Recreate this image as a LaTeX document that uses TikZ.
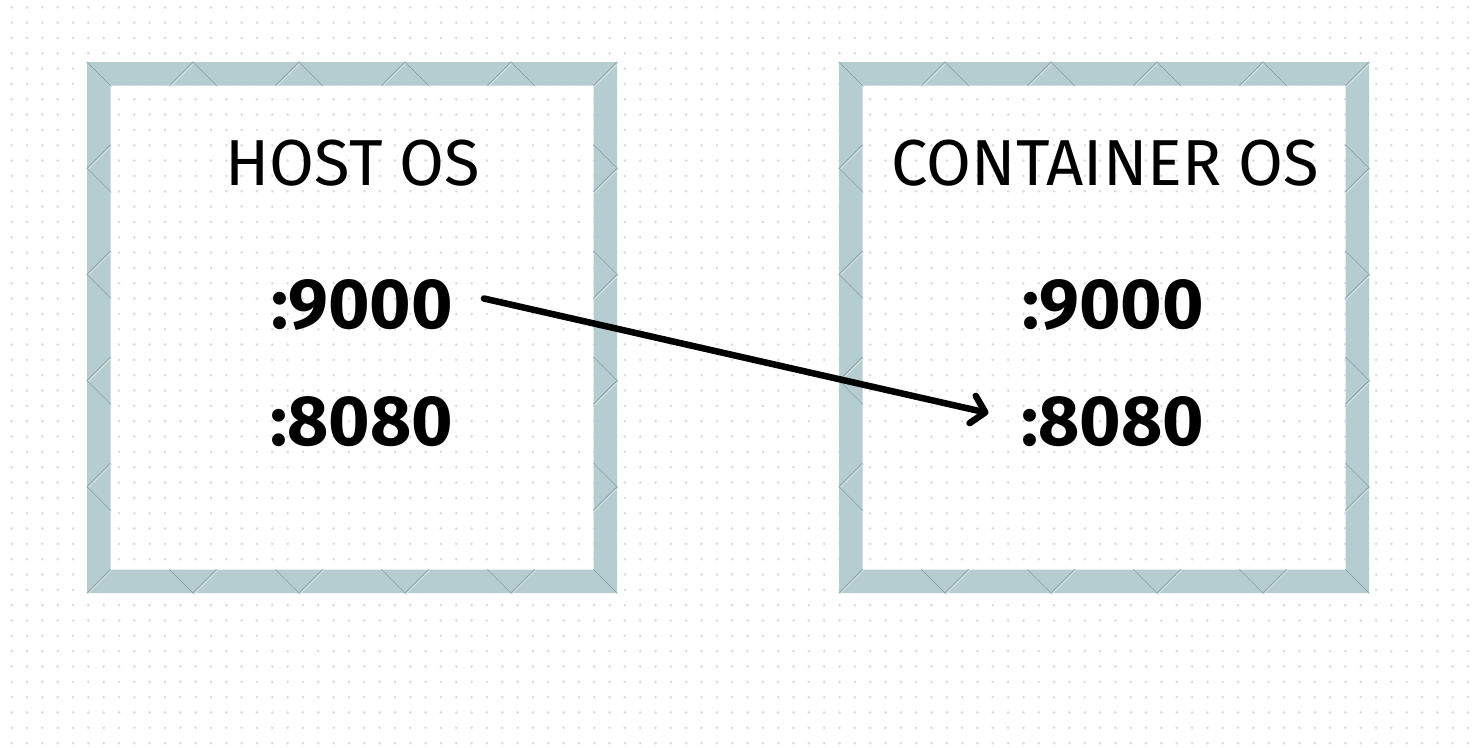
\documentclass[tikz,border=0pt]{standalone}
\usepackage{fontspec}
\setmainfont{Fira Sans}
\usetikzlibrary{arrows.meta,calc}
\definecolor{bandcol}{HTML}{B5CDD1}
\definecolor{markdark}{HTML}{8FA8AD}
\definecolor{marklight}{HTML}{D6E4E6}
\definecolor{dotcol}{HTML}{DCDCE4}
\tikzset{
  titletext/.style={font=\fontsize{65}{70}\selectfont, inner sep=0pt, anchor=base},
  porttext/.style={font=\bfseries\fontsize{71}{76}\selectfont, inner sep=0pt, anchor=base},
  linkarrow/.style={line width=6.5pt, -{Straight Barb[length=13pt,width=28pt,line cap=round,line join=round]}, line cap=round},
  markline/.style={draw=markdark, line width=0.9pt},
  marklite/.style={draw=marklight, line width=0.9pt},
}
\newcommand{\frameband}[4]{%
  % #1 x0, #2 y0, #3 x1, #4 y1
  \pgfmathsetmacro{\fx}{#1}\pgfmathsetmacro{\fy}{#2}%
  \pgfmathsetmacro{\gx}{#3}\pgfmathsetmacro{\gy}{#4}%
  \pgfmathsetmacro{\fw}{(#3-#1)/5}\pgfmathsetmacro{\fh}{(#4-#2)/5}%
  \def\ft{23.5}%
  \fill[bandcol, even odd rule] (\fx,\fy) rectangle (\gx,\gy) (\fx+\ft,\fy+\ft) rectangle (\gx-\ft,\gy-\ft);
  \foreach \s/\st in {1/marklite,0/markline}{
  \begin{scope}[shift={(\s,\s)}]
  \draw[\st] (\fx,\fy) -- (\fx+\ft,\fy+\ft);
  \draw[\st] (\gx,\fy) -- (\gx-\ft,\fy+\ft);
  \draw[\st] (\fx,\gy) -- (\fx+\ft,\gy-\ft);
  \draw[\st] (\gx,\gy) -- (\gx-\ft,\gy-\ft);
  \foreach \k in {1,2,3,4}{
    \draw[\st] (\fx+\k*\fw-\ft,\fy+\ft) -- (\fx+\k*\fw,\fy) -- (\fx+\k*\fw+\ft,\fy+\ft);
    \draw[\st] (\fx+\k*\fw-\ft,\gy-\ft) -- (\fx+\k*\fw,\gy) -- (\fx+\k*\fw+\ft,\gy-\ft);
    \draw[\st] (\fx+\ft,\fy+\k*\fh-\ft) -- (\fx,\fy+\k*\fh) -- (\fx+\ft,\fy+\k*\fh+\ft);
    \draw[\st] (\gx-\ft,\fy+\k*\fh-\ft) -- (\gx,\fy+\k*\fh) -- (\gx-\ft,\fy+\k*\fh+\ft);
  }
  \end{scope}}
}
\begin{document}
\begin{tikzpicture}[x=1pt,y=-1pt]
\useasboundingbox (0,0) rectangle (1472,747);
\fill[white] (0,0) rectangle (1472,747);
% dot grid
\foreach \i in {0,...,95}{
  \foreach \j in {0,...,48}{
    \fill[dotcol] (11.7+15.33*\i, 7.3+15.33*\j) circle (1.5);
  }
}
% frames
\frameband{87}{62}{617}{593}
\frameband{839}{62}{1369}{593}
% texts
\node[titletext] (hosttitle) at (353,185) {HOST OS};
\node[porttext] (h9000) at (362,328) {:9000};
\node[porttext] (h8080) at (362,445) {:8080};
\node[titletext] (conttitle) at (1105.5,185) {CONTAINER OS};
\node[porttext] (c9000) at (1113,328) {:9000};
\node[porttext] (c8080) at (1113,445) {:8080};
% arrow
\draw[linkarrow] ($(h9000.east)+(31,-6)$) -- ($(c8080.west)+(-33,-8)$);
\end{tikzpicture}
\end{document}
